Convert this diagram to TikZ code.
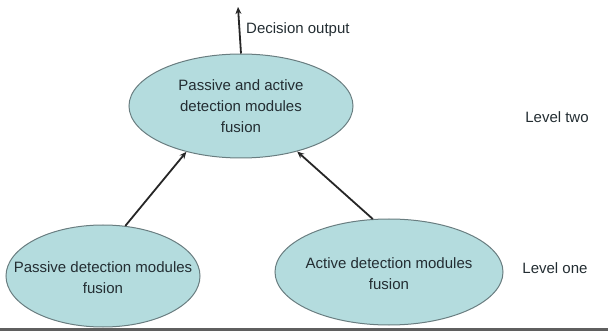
\documentclass[tikz,border=0pt]{standalone}
\usepackage{fontspec}
\setmainfont{Liberation Sans}
\usetikzlibrary{shapes.geometric,arrows.meta}
\definecolor{fillc}{RGB}{180,220,222}
\definecolor{edgec}{RGB}{105,125,128}
\definecolor{txtc}{RGB}{35,45,50}
\definecolor{basec}{RGB}{95,95,95}
\tikzset{
  bubble/.style={ellipse, draw=edgec, fill=fillc, line width=1pt, inner sep=0pt},
  btext/.style={align=center, text=txtc, font=\fontsize{15}{21}\selectfont, inner sep=0pt},
  lbl/.style={text=txtc, font=\fontsize{15}{18}\selectfont, inner sep=0pt},
  link/.style={line width=1.8pt, black!85, -{Stealth[length=7pt,width=6pt]}}
}
\begin{document}
\begin{tikzpicture}[x=1pt,y=-1pt]
\useasboundingbox (0,0) rectangle (608,331);
% ellipses
\node[bubble, minimum width=224pt, minimum height=104pt] (top) at (241,106) {};
\node[btext] (toptxt) at (241,106) {Passive and active\\detection modules\\fusion};
\node[bubble, minimum width=194pt, minimum height=102pt] (pl) at (103,276) {};
\node[btext] (pltxt) at (103,278) {Passive detection modules\\fusion};
\node[bubble, minimum width=228pt, minimum height=106pt] (ac) at (389,272) {};
\node[btext] (actxt) at (389,274) {Active detection modules\\fusion};
% labels
\node[lbl, anchor=west] (dec) at (246,30) {Decision output};
\node[lbl] (l2) at (557,117) {Level two};
\node[lbl] (l1) at (555,268) {Level one};
% connectors
\coordinate (out) at (238,7);
\draw[link] (top.north) -- (out);
\draw[link] (pl.66) -- (top.220);
\draw[link] (ac.107) -- (top.321);
% base line
\draw[basec, line width=2.5pt] (0,329.5) -- (608,329.5);
\end{tikzpicture}
\end{document}
